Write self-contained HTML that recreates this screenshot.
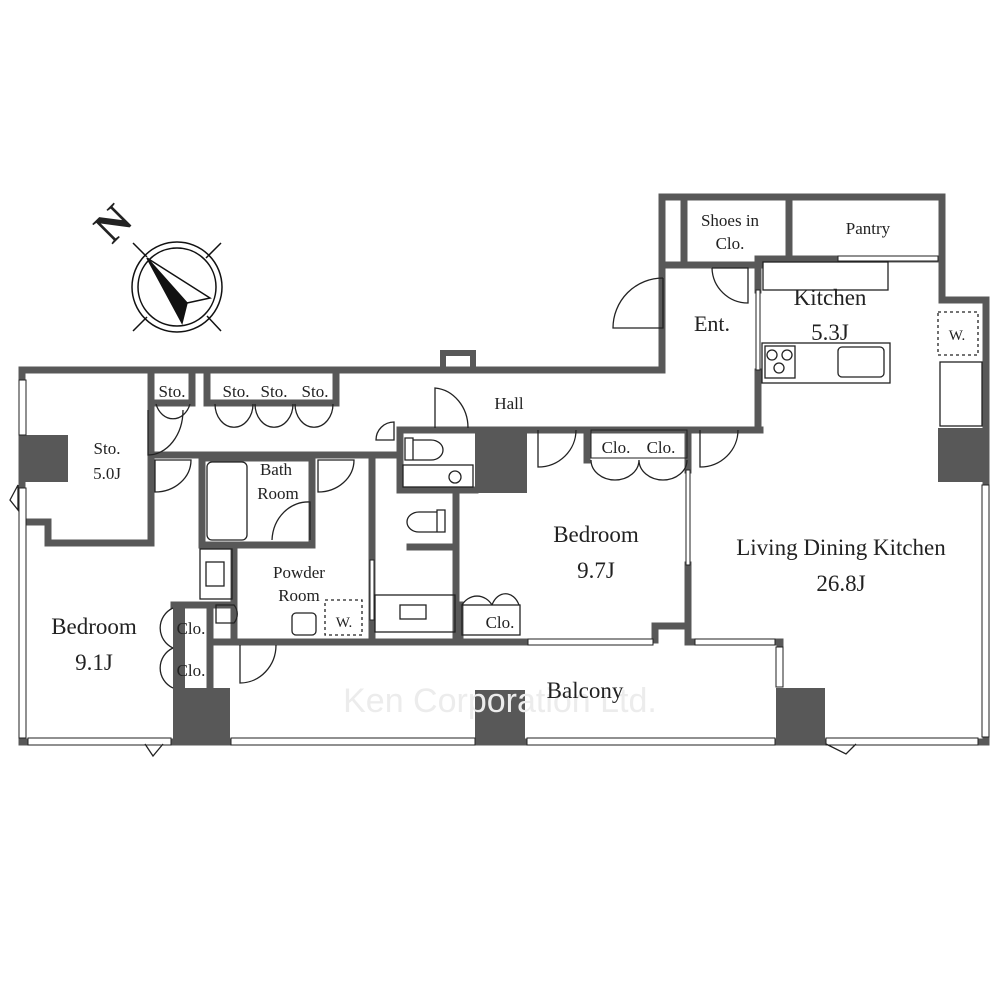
<!DOCTYPE html>
<html><head><meta charset="utf-8"><style>
html,body{margin:0;padding:0;background:#fff;width:1000px;height:1000px;overflow:hidden}
svg{display:block}
text{font-family:"Liberation Serif",serif;fill:#222}
</style></head><body>
<svg width="1000" height="1000" viewBox="0 0 1000 1000" xmlns="http://www.w3.org/2000/svg">
<g fill="none" stroke="#585858" stroke-width="7" stroke-linecap="square">
<path d="M22,370 H662 V197 H942 V300 H986 V742 H22 Z"/>
<path d="M443,367 V353 H473 V367" stroke-width="6"/>
<path d="M684,200 V265"/>
<path d="M789,200 V258"/>
<path d="M665,265 H760"/>
<path d="M758,259 H940"/>
<path d="M758,259 V290"/>
<path d="M758,372 V430"/>
<path d="M400,430 H760"/>
<path d="M151,455 H372"/>
<path d="M151,373 V543"/>
<path d="M48,543 H151"/>
<path d="M48,522 V543"/>
<path d="M22,522 H48"/>
<path d="M151,403 H192"/>
<path d="M207,403 H336 V373"/>
<path d="M192,373 V403"/>
<path d="M207,373 V403"/>
<path d="M202,458 H312 V545 H202 Z"/>
<path d="M234,545 V640"/>
<path d="M372,455 V640"/>
<path d="M400,430 V490 H475"/>
<path d="M372,455 H400"/>
<path d="M456,490 V640"/>
<path d="M410,547 H456"/>
<path d="M688,430 V470"/>
<path d="M688,565 V640"/>
<path d="M587,430 V460"/>
<path d="M655,640 V626 H688"/>
<path d="M460,605 V640"/>
<path d="M210,642 H528"/>
<path d="M688,642 H780 V645"/>
<path d="M210,605 V690"/>
<path d="M174,605 H232"/>
</g>
<g fill="#585858">
<rect x="22" y="435" width="46" height="47"/>
<rect x="475" y="428" width="52" height="65"/>
<rect x="938" y="428" width="50" height="54"/>
<rect x="173" y="688" width="57" height="57"/>
<rect x="475" y="690" width="50" height="55"/>
<rect x="776" y="688" width="49" height="57"/>
<rect x="173" y="605" width="12" height="85"/>
</g>
<g fill="#fff" stroke="#222" stroke-width="1">
<rect x="19" y="380" width="7" height="55"/>
<rect x="19" y="488" width="7" height="250"/>
<rect x="28" y="738" width="143" height="7"/>
<rect x="231" y="738" width="244" height="7"/>
<rect x="527" y="738" width="248" height="7"/>
<rect x="826" y="738" width="152" height="7"/>
<rect x="982" y="485" width="7" height="252"/>
<rect x="776" y="647" width="7" height="40"/>
<rect x="528" y="639" width="125" height="6"/>
<rect x="695" y="639" width="80" height="6"/>
<rect x="686" y="470" width="4" height="95"/>
<rect x="756" y="290" width="4" height="80"/>
<rect x="838" y="256" width="100" height="5"/>
<rect x="370" y="560" width="4" height="60"/>
</g>
<g fill="none" stroke="#222" stroke-width="1.3">
<rect x="207" y="462" width="40" height="78" rx="5"/>
<rect x="200" y="549" width="32" height="50"/>
<rect x="206" y="562" width="18" height="24"/>
<rect x="403" y="465" width="70" height="22"/>
<circle cx="455" cy="477" r="6"/>
<path d="M405,438 h8 v22 h-8 z M413,440 h18 a12,10 0 0 1 0,20 h-18"/>
<path d="M445,510 h-8 v22 h8 z M437,512 h-18 a12,10 0 0 0 0,20 h18"/>
<rect x="375" y="595" width="80" height="37"/>
<rect x="400" y="605" width="26" height="14"/>
<rect x="292" y="613" width="24" height="22" rx="4"/>
<rect x="325" y="600" width="37" height="35" stroke-dasharray="3,3"/>
<rect x="763" y="262" width="125" height="28"/>
<rect x="762" y="343" width="128" height="40"/>
<rect x="765" y="346" width="30" height="32"/>
<circle cx="772" cy="355" r="5"/><circle cx="787" cy="355" r="5"/><circle cx="779" cy="368" r="5"/>
<rect x="838" y="347" width="46" height="30" rx="4"/>
<rect x="938" y="312" width="40" height="43" stroke-dasharray="3,3"/>
<rect x="940" y="362" width="42" height="64"/>
<rect x="462" y="605" width="58" height="30"/>
<path d="M663,278 v50 h-50 a50,50 0 0 1 50,-50"/>
<path d="M712,268 h36 v35 a36,36 0 0 1 -36,-35"/>
<path d="M435,428 v-40 a36,40 0 0 1 33,40"/>
<path d="M538,430 v37 a38,37 0 0 0 38,-37"/>
<path d="M700,430 v37 a38,37 0 0 0 38,-37"/>
<path d="M155,460 v32 a36,32 0 0 0 36,-32 z"/>
<path d="M318,460 v32 a36,32 0 0 0 36,-32 z"/>
<path d="M272,540 a36,40 0 0 1 38,-38 v38"/>
<path d="M240,645 v38 a36,38 0 0 0 36,-38"/>
<path d="M148,410 v45 a35,45 0 0 0 35,-45"/>
<path d="M376,440 a18,18 0 0 1 18,-18 v18 z"/>
<path d="M216,605 v18 h18 a14,14 0 0 0 0,-18 z"/>
<path d="M156,404 a18,22 0 0 0 34,0 M215,404 a18,22 0 0 0 38,0 M255,404 a18,22 0 0 0 38,0 M295,404 a18,22 0 0 0 38,0"/>
<path d="M591,460 a24,20 0 0 0 48,0 M639,460 a24,20 0 0 0 48,0"/>
<path d="M462,605 a18,20 0 0 1 30,0 M492,605 a15,20 0 0 1 27,0"/>
<path d="M173,608 a22,22 0 0 0 0,40 M173,648 a22,22 0 0 0 0,40"/>
<path d="M18,485 l-8,15 l8,10 z"/>
<path d="M145,744 l8,12 l10,-12"/>
<path d="M826,744 l20,10 l10,-10"/>
</g>
<rect x="591" y="430" width="96" height="28" fill="none" stroke="#222" stroke-width="1"/>
<g stroke="#111" fill="none" stroke-width="1.5">
<circle cx="177" cy="287" r="45"/>
<circle cx="177" cy="287" r="39"/>
<line x1="133" y1="243" x2="147" y2="257"/>
<line x1="221" y1="243" x2="206" y2="258"/>
<line x1="133" y1="331" x2="147" y2="317"/>
<line x1="221" y1="331" x2="207" y2="316"/>
<path d="M147,258 L210,298 L187,303"/>
<path d="M147,258 L187,303 L182,323 Z" fill="#111"/>
</g>
<text x="0" y="0" font-size="44" font-weight="bold" transform="translate(112,245) rotate(-45)">N</text>
<text x="500" y="712" font-size="34" text-anchor="middle" style="fill:#ececec;font-family:'Liberation Sans',sans-serif">Ken Corporation Ltd.</text>
<g font-size="17" text-anchor="middle">
<text x="172" y="397">Sto.</text>
<text x="236" y="397">Sto.</text>
<text x="274" y="397">Sto.</text>
<text x="315" y="397">Sto.</text>
<text x="107" y="454">Sto.</text>
<text x="107" y="479">5.0J</text>
<text x="276" y="475">Bath</text>
<text x="278" y="499">Room</text>
<text x="299" y="578">Powder</text>
<text x="299" y="601">Room</text>
<text x="344" y="627" font-size="15">W.</text>
<text x="509" y="409">Hall</text>
<text x="616" y="453">Clo.</text>
<text x="661" y="453">Clo.</text>
<text x="500" y="628">Clo.</text>
<text x="191" y="634">Clo.</text>
<text x="191" y="676">Clo.</text>
<text x="730" y="226">Shoes in</text>
<text x="730" y="249">Clo.</text>
<text x="868" y="234">Pantry</text>
<text x="957" y="340" font-size="15">W.</text>
<text x="712" y="331" font-size="22">Ent.</text>
</g>
<g font-size="23" text-anchor="middle">
<text x="830" y="305">Kitchen</text>
<text x="830" y="340">5.3J</text>
<text x="596" y="542">Bedroom</text>
<text x="596" y="578">9.7J</text>
<text x="94" y="634">Bedroom</text>
<text x="94" y="670">9.1J</text>
<text x="841" y="555">Living Dining Kitchen</text>
<text x="841" y="591">26.8J</text>
<text x="585" y="698">Balcony</text>
</g>
</svg>
</body></html>
